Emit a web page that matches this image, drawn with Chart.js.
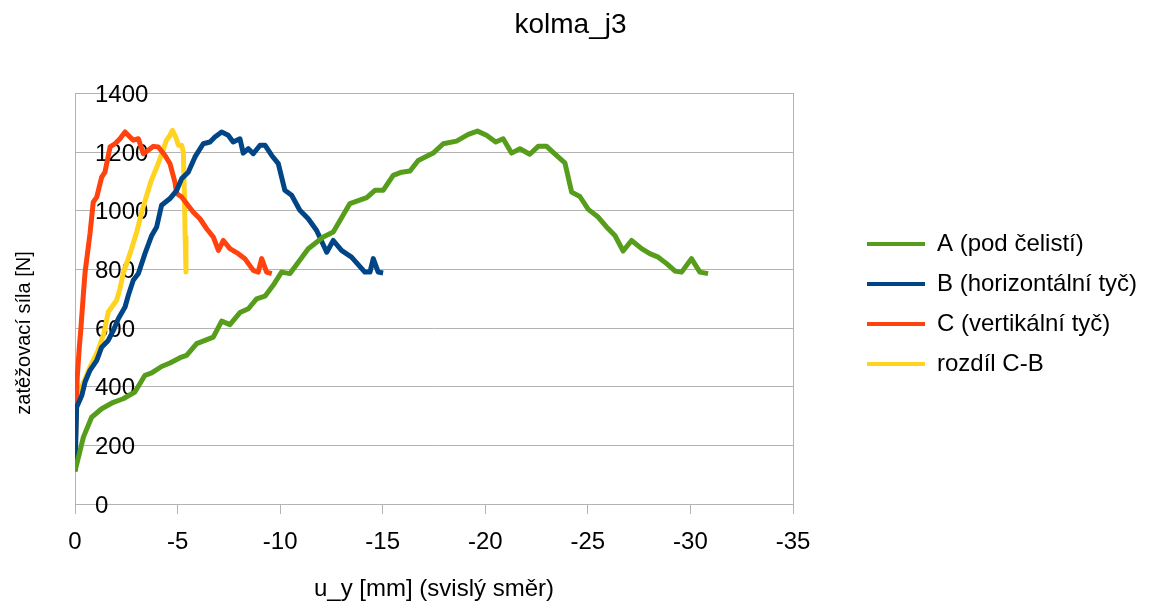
<!DOCTYPE html>
<html>
<head>
<meta charset="utf-8">
<title>kolma_j3</title>
<script src="https://cdn.jsdelivr.net/npm/chart.js"></script>
<style>
  html, body { margin: 0; padding: 0; background: #fff; }
  #wrap { width: 1160px; height: 608px; }
</style>
</head>
<body>
<div id="wrap"><canvas id="chartKolma" width="1160" height="608"></canvas></div>
<script>
// Displacement u_y [mm] and load [N] for each measuring point
const labelA = 'A (pod čelistí)';
const uA = [0, -0.41, -0.81, -1.30, -1.87, -2.35, -2.92, -3.41, -3.74, -4.22, -4.63, -5.12, -5.44, -5.93, -6.74, -7.15, -7.55, -8.04, -8.45, -8.85, -9.26, -9.66, -10.07, -10.48, -11.37, -12.10, -12.59, -13.40, -14.22, -14.62, -15.02, -15.51, -15.92, -16.33, -16.73, -17.46, -17.95, -18.60, -19.17, -19.62, -20.06, -20.51, -20.87, -21.28, -21.69, -22.17, -22.58, -22.99, -23.47, -23.88, -24.21, -24.61, -25.02, -25.50, -25.91, -26.32, -26.72, -27.13, -27.62, -28.02, -28.43, -28.84, -29.24, -29.57, -30.05, -30.46, -30.86];
const fA = [112, 228, 296, 325, 347, 359, 382, 439, 447, 469, 481, 499, 507, 547, 569, 624, 612, 653, 666, 700, 709, 746, 791, 786, 871, 911, 928, 1025, 1045, 1070, 1070, 1121, 1132, 1136, 1172, 1197, 1229, 1238, 1261, 1272, 1258, 1235, 1246, 1197, 1212, 1193, 1220, 1220, 1189, 1164, 1064, 1049, 1005, 979, 945, 916, 863, 899, 871, 854, 842, 820, 795, 791, 837, 791, 786];

const labelB = 'B (horizontální tyč)';
const uB = [0, -0.08, -0.33, -0.49, -0.73, -1.06, -1.30, -1.62, -1.87, -2.11, -2.44, -2.60, -2.84, -3.09, -3.41, -3.74, -3.98, -4.22, -4.63, -4.96, -5.20, -5.52, -5.85, -6.25, -6.58, -6.82, -7.15, -7.47, -7.71, -8.04, -8.20, -8.45, -8.69, -9.02, -9.26, -9.59, -9.91, -10.23, -10.56, -10.96, -11.37, -11.78, -12.27, -12.59, -12.99, -13.48, -14.13, -14.38, -14.54, -14.78, -15.02];
const fB = [112, 330, 370, 416, 456, 490, 535, 558, 592, 632, 672, 712, 763, 786, 854, 916, 945, 1019, 1042, 1070, 1110, 1132, 1184, 1229, 1235, 1252, 1269, 1258, 1235, 1246, 1197, 1212, 1195, 1224, 1224, 1189, 1161, 1070, 1053, 1002, 973, 933, 859, 899, 865, 842, 791, 791, 837, 791, 788];

const labelC = 'C (vertikální tyč)';
const uC = [0, -0.05, -0.11, -0.21, -0.28, -0.41, -0.49, -0.73, -0.89, -1.06, -1.30, -1.46, -1.71, -1.95, -2.19, -2.44, -2.68, -2.84, -3.09, -3.33, -3.57, -3.82, -4.06, -4.39, -4.63, -4.87, -4.96, -5.20, -5.44, -5.76, -6.09, -6.42, -6.74, -6.99, -7.23, -7.55, -7.96, -8.28, -8.69, -8.93, -9.10, -9.34, -9.59];
const fC = [112, 330, 433, 535, 592, 717, 790, 922, 1030, 1047, 1115, 1132, 1218, 1229, 1246, 1269, 1252, 1241, 1246, 1195, 1207, 1220, 1218, 1189, 1161, 1098, 1059, 1047, 1025, 996, 973, 939, 911, 865, 899, 871, 854, 837, 797, 791, 837, 791, 786];

const labelD = 'rozdíl C-B';
const uD = [0, -0.05, -0.33, -0.73, -1.10, -1.40, -1.62, -2.03, -2.19, -2.35, -2.68, -3.01, -3.25, -3.45, -3.70, -4.02, -4.26, -4.45, -4.63, -4.75, -4.92, -5.04, -5.20, -5.28, -5.33, -5.37, -5.41];
const fD = [112, 330, 400, 467, 520, 580, 655, 695, 734, 786, 854, 928, 996, 1042, 1100, 1155, 1200, 1240, 1258, 1275, 1250, 1224, 1224, 1200, 1060, 911, 791];

// Axis ranges / ticks
const xMin = -35, xMax = 0, xStep = 5;
const yMin = 0, yMax = 1400, yStep = 200;

const FONT = "'Liberation Sans', Arial, sans-serif";
const GRID = '#b3b3b3';

const toPoints = (xs, ys) => xs.map((x, i) => ({ x: x, y: ys[i] }));

const makeSeries = (label, xs, ys, color) => ({
    label: label,
    data: toPoints(xs, ys),
    borderColor: color,
    backgroundColor: color,
    borderWidth: 5,
    borderJoinStyle: 'round',
    pointRadius: 0,
    tension: 0
});

// Rotated y axis caption, placed by hand
const yCaption = {
    id: 'yCaption',
    afterDraw(chart, args, opts) {
        const { ctx } = chart;
        ctx.save();
        ctx.translate(opts.x, opts.y);
        ctx.rotate(-Math.PI / 2);
        ctx.font = opts.size + 'px ' + FONT;
        ctx.fillStyle = '#000';
        ctx.textAlign = 'center';
        ctx.textBaseline = 'middle';
        ctx.fillText(opts.text, 0, 0);
        ctx.restore();
    }
};

const ctx = document.getElementById('chartKolma').getContext('2d');
new Chart(ctx, {
    type: 'line',
    data: {
        datasets: [
            makeSeries(labelA, uA, fA, '#579d1c'),
            makeSeries(labelB, uB, fB, '#004586'),
            makeSeries(labelC, uC, fC, '#ff420e'),
            makeSeries(labelD, uD, fD, '#ffd320')
        ]
    },
    options: {
        responsive: false,
        animation: false,
        layout: { padding: { left: 0, right: 19, top: 0, bottom: 0 } },
        plugins: {
            title: {
                display: true,
                text: 'kolma_j3',
                color: '#000',
                font: { family: FONT, size: 28, weight: 'normal' },
                padding: { top: 8, bottom: 52 }
            },
            legend: {
                position: 'right',
                maxWidth: 290,
                labels: {
                    boxWidth: 58,
                    boxHeight: 4,
                    padding: 16,
                    color: '#000',
                    font: { family: FONT, size: 24 },
                    generateLabels(chart) {
                        const items = Chart.defaults.plugins.legend.labels.generateLabels(chart);
                        items.forEach(it => { it.lineWidth = 0; });
                        return items;
                    }
                }
            },
            tooltip: { enabled: false },
            yCaption: { text: 'zatěžovací síla [N]', x: 24, y: 333, size: 20 }
        },
        scales: {
            x: {
                type: 'linear',
                reverse: true,
                min: xMin,
                max: xMax,
                afterFit(scale) { scale.height = 104; },
                ticks: {
                    stepSize: xStep,
                    color: '#000',
                    font: { family: FONT, size: 24 },
                    padding: 14,
                    maxRotation: 0,
                    callback: v => String(v)
                },
                grid: { drawOnChartArea: false, tickLength: 10, color: GRID },
                border: { color: GRID },
                title: {
                    display: true,
                    text: 'u_y [mm] (svislý směr)',
                    color: '#000',
                    font: { family: FONT, size: 24 },
                    padding: { top: 18, bottom: 4 }
                }
            },
            y: {
                min: yMin,
                max: yMax,
                afterFit(scale) { scale.width = 75; },
                ticks: {
                    stepSize: yStep,
                    mirror: true,
                    padding: 20,
                    labelOffset: 2,
                    color: '#000',
                    font: { family: FONT, size: 24 },
                    callback: v => String(v)
                },
                grid: { color: GRID, drawTicks: false },
                border: { color: GRID }
            },
            // empty right-hand axis: frame line + gap before the legend
            y2: {
                position: 'right',
                afterFit(scale) { scale.width = 58; },
                ticks: { display: false },
                grid: { drawOnChartArea: false, drawTicks: false },
                border: { color: GRID }
            }
        }
    },
    plugins: [yCaption]
});
</script>
</body>
</html>
